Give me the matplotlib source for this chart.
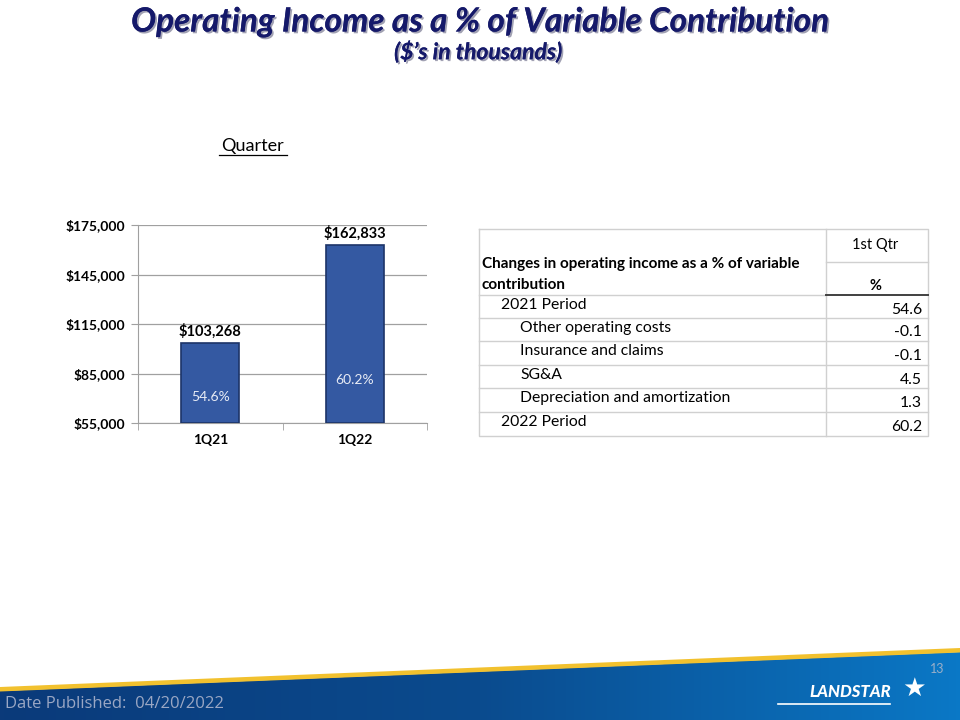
import numpy as np
import matplotlib
matplotlib.use('Agg')
import matplotlib.pyplot as plt
from matplotlib.patches import Polygon
from matplotlib.ticker import FuncFormatter, FixedLocator
from matplotlib.colors import LinearSegmentedColormap
import matplotlib.patheffects as pe

# Data
quarters = ['1Q21', '1Q22']
op_income = [103268, 162833]
pct_labels = ['54.6%', '60.2%']
y_ticks = [55000, 85000, 115000, 145000, 175000]

table_header = '1st Qtr'
table_col_title = ['Changes in operating income as a % of variable', 'contribution']
row_labels = ['2021 Period', 'Other operating costs', 'Insurance and claims',
              'SG&A', 'Depreciation and amortization', '2022 Period']
row_indent = [0, 1, 1, 1, 1, 0]
row_values = ['54.6', '-0.1', '-0.1', '4.5', '1.3', '60.2']

FONT = 'Lato'
NAVY = '#15196A'

fig = plt.figure(figsize=(9.6, 7.2), dpi=100)
fig.patch.set_facecolor('white')

# overlay axes in pixel coordinates for decorations / table
ov = fig.add_axes([0, 0, 1, 1])
ov.set_xlim(0, 960)
ov.set_ylim(720, 0)
ov.axis('off')

# title
shadow = [pe.withSimplePatchShadow(offset=(1.3, -1.3), shadow_rgbFace='#8A8AA0', alpha=0.8), pe.Normal()]
ov.text(480, 22, 'Operating Income as a % of Variable Contribution', ha='center', va='center',
        fontsize=24, fontweight='bold', fontstyle='italic', color=NAVY, family=FONT,
        path_effects=shadow)
ov.text(478, 52, '($\u2019s in thousands)', ha='center', va='center',
        fontsize=16.5, fontweight='bold', fontstyle='italic', color=NAVY, family=FONT,
        path_effects=shadow)

# "Quarter" underlined
ov.text(253, 146, 'Quarter', ha='center', va='center', fontsize=13, family=FONT, color='black')
ov.plot([219, 287], [155, 155], color='black', lw=0.9)

# bar chart
ax = fig.add_axes([138 / 960, 1 - 423 / 720, 289 / 960, 198 / 720])
x = np.arange(len(quarters))
bars = ax.bar(x, [v - 55000 for v in op_income], bottom=55000, width=0.4,
              color='#3459A2', edgecolor='#1C3468', linewidth=1.2, zorder=3)
ax.set_xlim(-0.5, 1.5)
ax.set_ylim(55000, 175000)
ax.set_yticks(y_ticks)
ax.yaxis.set_major_formatter(FuncFormatter(lambda v, p: '${:,.0f}'.format(v)))
ax.set_xticks(x)
ax.set_xticklabels(quarters)
ax.xaxis.set_minor_locator(FixedLocator([-0.5, 0.5, 1.5]))
ax.tick_params(axis='x', which='major', length=0, pad=8)
ax.tick_params(axis='x', which='minor', length=5, color='#A0A0A0')
ax.tick_params(axis='y', length=5, color='#A0A0A0', pad=4)
for lab in ax.get_xticklabels() + ax.get_yticklabels():
    lab.set_fontweight('bold')
    lab.set_fontsize(10)
    lab.set_family(FONT)
ax.grid(axis='y', color='#A0A0A0', lw=0.9, zorder=0)
for s in ['top', 'right']:
    ax.spines[s].set_visible(False)
for s in ['left', 'bottom']:
    ax.spines[s].set_color('#A0A0A0')
for xi, v in zip(x, op_income):
    ax.text(xi, v + 2500, '${:,.0f}'.format(v), ha='center', va='bottom',
            fontsize=10.5, fontweight='bold', family=FONT)
pct_y = [70800, 81000]
for xi, lab, yy in zip(x, pct_labels, pct_y):
    ax.text(xi, yy, lab, ha='center', va='center', fontsize=10, color='#E8ECF5', family=FONT)

# table
tl, tr, tm = 479, 928, 826
line_c = '#D0D0D0'
row_tops = [229, 262, 295, 318, 341, 365, 388, 412, 436]
ov.plot([tl, tr, tr, tl, tl], [229, 229, 436, 436, 229], color=line_c, lw=1)
ov.plot([tm, tm], [229, 436], color=line_c, lw=1)
ov.plot([tm, tr], [262, 262], color=line_c, lw=1)
for yy in row_tops[3:-1]:
    ov.plot([tl, tr], [yy, yy], color=line_c, lw=1)
ov.plot([tl, tm], [295, 295], color=line_c, lw=1)
ov.plot([tm, tr], [295, 295], color='#404040', lw=1.4)

ov.text(875, 245, table_header, ha='center', va='center', fontsize=10.5, family=FONT)
ov.text(482, 264, table_col_title[0], ha='left', va='center', fontsize=11,
        fontweight='bold', family=FONT)
ov.text(482, 285, table_col_title[1], ha='left', va='center', fontsize=11,
        fontweight='bold', family=FONT)
ov.text(875, 286, '%', ha='center', va='center', fontsize=10.5, fontweight='bold', family=FONT)
for i, (lab, ind, val) in enumerate(zip(row_labels, row_indent, row_values)):
    y0 = row_tops[i + 2]
    y1 = row_tops[i + 3]
    ov.text(501 + 19 * ind, y0 + 10, lab, ha='left', va='center', fontsize=11.3, family=FONT)
    ov.text(922, (y0 + y1) / 2 + 3, val, ha='right', va='center', fontsize=11.3, family=FONT)

# footer band with gradient
grad = np.linspace(0, 1, 256).reshape(1, -1)
cmap = LinearSegmentedColormap.from_list('band', ['#0B3A7A', '#0A4B8E', '#0A78C6'])
band = Polygon([(0, 691), (960, 652), (960, 720), (0, 720)], closed=True,
               transform=ov.transData, facecolor='none', edgecolor='none')
ov.add_patch(band)
img = ov.imshow(grad, cmap=cmap, extent=[0, 960, 720, 640], aspect='auto', zorder=1)
img.set_clip_path(band)
ov.add_patch(Polygon([(0, 687), (960, 648), (960, 652.5), (0, 691.5)], closed=True,
                     facecolor='#F2C12E', edgecolor='none', zorder=2))
ov.set_xlim(0, 960)
ov.set_ylim(720, 0)

ov.text(5, 704, 'Date Published:  04/20/2022', ha='left', va='center', fontsize=12,
        color='#9AA7C4', family='Open Sans', zorder=3)
ov.text(937, 669, '13', ha='center', va='center', fontsize=9, color='#9AAFC8',
        family=FONT, zorder=3)
ov.text(850, 692, 'LANDSTAR', ha='center', va='center', fontsize=12, fontweight='black',
        fontstyle='italic', color='white', family=FONT, zorder=3)
ov.plot([778, 890], [704, 704], color='white', lw=1.2, zorder=3)
ov.text(914, 689, '\u2605', ha='center', va='center', fontsize=19, color='white',
        family='DejaVu Sans', zorder=3)

fig.savefig('out.png', dpi=100)
